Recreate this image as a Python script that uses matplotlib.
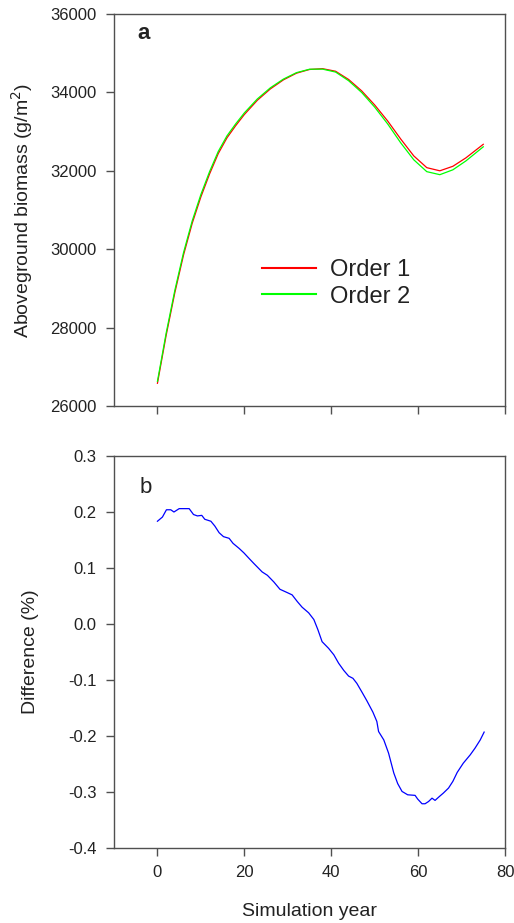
import matplotlib
matplotlib.use("Agg")
import matplotlib.pyplot as plt

plt.rcParams['font.family'] = ['Liberation Sans', 'DejaVu Sans']

# Panel a: aboveground biomass (g/m2)
years_bio = [0, 2, 4, 6, 8, 10, 12, 14, 16, 18, 20, 23, 26, 29, 32, 35, 38, 41,
             44, 47, 50, 53, 56, 59, 62, 65, 68, 71, 75]
order1 = [26580, 27800, 28890, 29850, 30660, 31335, 31920, 32440, 32840, 33150,
          33435, 33800, 34090, 34320, 34490, 34585, 34605, 34540, 34330, 34040,
          33680, 33270, 32810, 32380, 32080, 32000, 32115, 32330, 32676]
order2 = [26629, 27856, 28948, 29911, 30721, 31396, 31979, 32494, 32891, 33196,
          33477, 33834, 34118, 34340, 34504, 34591, 34594, 34519, 34298, 33999,
          33625, 33195, 32713, 32281, 31978, 31901, 32025, 32252, 32612]
series_labels = ["Order 1", "Order 2"]

# Panel b: difference (%)
years_diff = [0, 1.15, 2.07, 3.06, 3.8, 5.0, 6.9, 7.3, 8.3, 9.2, 10.2, 10.9, 12.3,
              13.2, 14.2, 15.2, 16.5, 17.4, 18.8, 19.9, 21.1, 22.2, 24.1, 25.3,
              26.8, 28.2, 29.9, 31.0, 32.2, 33.3, 34.8, 36.0, 36.9, 37.9, 39.4,
              40.6, 41.7, 42.9, 44.0, 45.0, 45.9, 47.1, 48.2, 49.6, 50.5, 50.9,
              52.1, 53.2, 54.4, 55.3, 56.3, 57.6, 59.3, 59.9, 60.9, 61.6, 62.4,
              63.2, 63.9, 64.9, 65.8, 67.0, 68.0, 69.0, 70.4, 72.0, 73.1, 74.3, 75.2]
diff = [0.1835, 0.191, 0.204, 0.204, 0.200, 0.206, 0.206, 0.206, 0.1955, 0.193,
        0.194, 0.187, 0.1835, 0.175, 0.163, 0.156, 0.153, 0.144, 0.135, 0.127,
        0.117, 0.108, 0.093, 0.087, 0.075, 0.062, 0.056, 0.052, 0.040, 0.030,
        0.020, 0.008, -0.0095, -0.0316, -0.0435, -0.055, -0.070, -0.083, -0.093,
        -0.097, -0.106, -0.122, -0.137, -0.1575, -0.174, -0.192, -0.207, -0.2306,
        -0.266, -0.285, -0.299, -0.305, -0.306, -0.3126, -0.321, -0.321, -0.317,
        -0.311, -0.315, -0.308, -0.302, -0.293, -0.281, -0.265, -0.2485, -0.2336,
        -0.2217, -0.207, -0.193]

xticks = [0, 20, 40, 60, 80]
yticks_a = [26000, 28000, 30000, 32000, 34000, 36000]
yticks_b = [-0.4, -0.3, -0.2, -0.1, 0.0, 0.1, 0.2, 0.3]

W, H = 514, 923
fig = plt.figure(figsize=(W / 100, H / 100), dpi=100)
spine_col = '#505050'
txt_col = '#222222'
AX_W = 391
AX_H = 392

def frame(ax):
    for s in ax.spines.values():
        s.set_color(spine_col)
        s.set_linewidth(1.0)
    ax.tick_params(direction='out', length=5.5, width=1.0, color=spine_col,
                   labelsize=12, labelcolor=txt_col, pad=6.5)
    ax.tick_params(axis='y', pad=7)

ax1 = fig.add_axes([114 / W, 1 - 406 / H, AX_W / W, AX_H / H])
ax1.plot(years_bio, order1, color='#ff0000', lw=0.9, label=series_labels[0])
ax1.plot(years_bio, order2, color='#00ff00', lw=0.9, label=series_labels[1])
ax1.set_xlim(-10, 80)
ax1.set_ylim(26000, 36000)
ax1.set_xticks(xticks)
ax1.set_xticklabels([])
ax1.set_yticks(yticks_a)
ax1.set_yticklabels([str(v) for v in yticks_a])
ax1.set_ylabel('Aboveground biomass (g/m$^2$)', fontsize=14, color=txt_col)
ax1.yaxis.set_label_coords((35 - 114) / AX_W, 0.5)
frame(ax1)
ax1.text((137 - 114) / AX_W, 1 - (39 - 14) / AX_H, 'a', transform=ax1.transAxes,
         fontsize=16, fontweight='bold', color=txt_col, va='baseline', ha='left')
leg = ax1.legend(loc='upper left',
                 bbox_to_anchor=((262 - 114) / AX_W, 1 - (259 - 14) / AX_H),
                 frameon=False, fontsize=17, handlelength=2.3, handletextpad=0.6,
                 labelspacing=0.2, borderaxespad=0, borderpad=0)
for lh in leg.get_lines():
    lh.set_linewidth(1.5)
for t in leg.get_texts():
    t.set_color(txt_col)

ax2 = fig.add_axes([114 / W, 1 - 848 / H, AX_W / W, AX_H / H])
ax2.plot(years_diff, diff, color='#0000ff', lw=0.9)
ax2.set_xlim(-10, 80)
ax2.set_ylim(-0.4, 0.3)
ax2.set_xticks(xticks)
ax2.set_xticklabels([str(v) for v in xticks])
ax2.set_yticks(yticks_b)
ax2.set_yticklabels(['%.1f' % v for v in yticks_b])
ax2.set_ylabel('Difference (%)', fontsize=14, color=txt_col)
ax2.yaxis.set_label_coords((39 - 114) / AX_W, 0.5)
ax2.set_xlabel('Simulation year', fontsize=14, color=txt_col)
ax2.xaxis.set_label_coords(0.5, (848 - 903) / AX_H)
frame(ax2)
ax2.text((140 - 114) / AX_W, 1 - (493 - 456) / AX_H, 'b', transform=ax2.transAxes,
         fontsize=16, color=txt_col, va='baseline', ha='left')

fig.savefig('out.png', dpi=100)
